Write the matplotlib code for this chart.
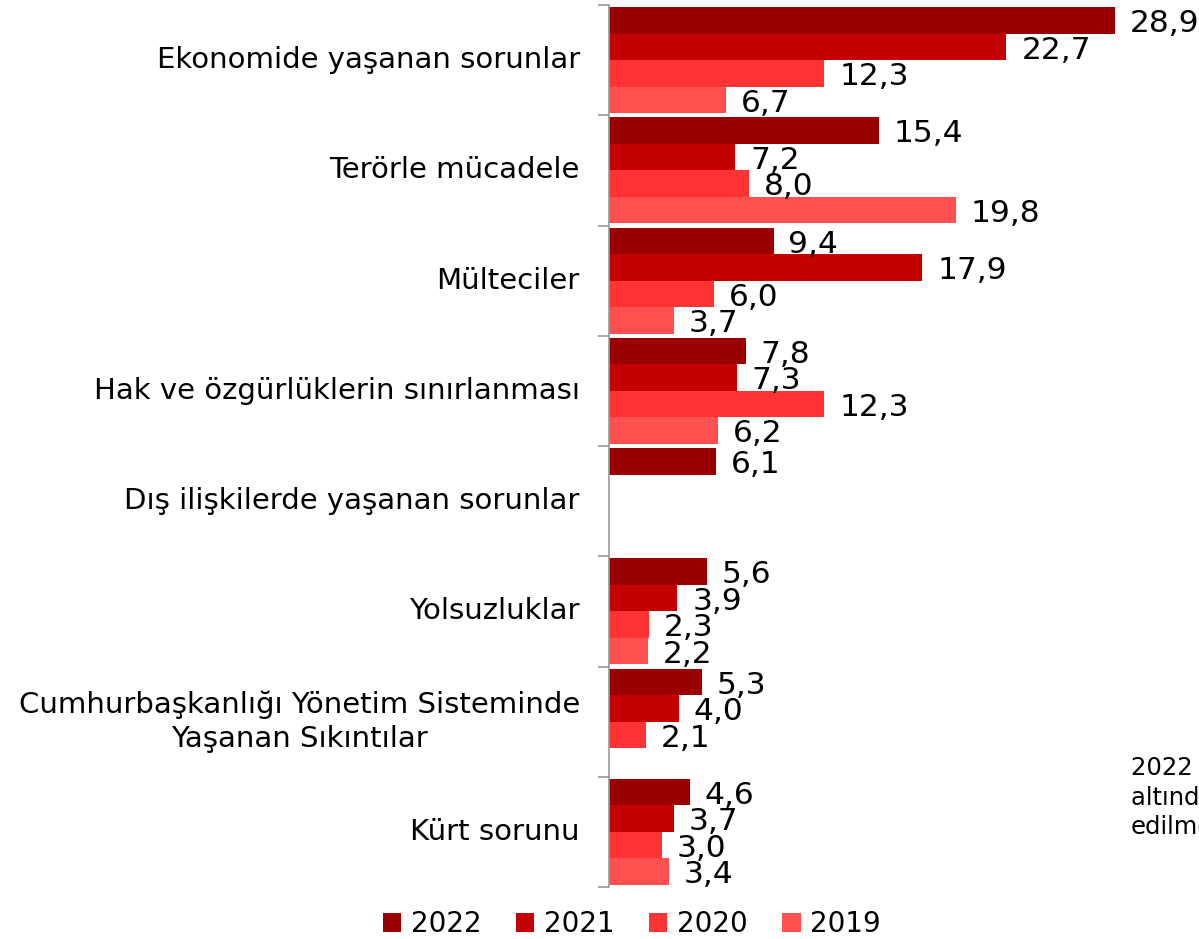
import numpy as np
import matplotlib
matplotlib.use("Agg")
import matplotlib.pyplot as plt

plt.rcParams['font.family'] = ['DejaVu Sans']

# veriler
kategoriler = [
    "Ekonomide yaşanan sorunlar",
    "Terörle mücadele",
    "Mülteciler",
    "Hak ve özgürlüklerin sınırlanması",
    "Dış ilişkilerde yaşanan sorunlar",
    "Yolsuzluklar",
    "Cumhurbaşkanlığı Yönetim Sisteminde\nYaşanan Sıkıntılar",
    "Kürt sorunu",
]
yillar = ["2022", "2021", "2020", "2019"]
v2022 = [28.9, 15.4, 9.4, 7.8, 6.1, 5.6, 5.3, 4.6]
v2021 = [22.7, 7.2, 17.9, 7.3, np.nan, 3.9, 4.0, 3.7]
v2020 = [12.3, 8.0, 6.0, 12.3, np.nan, 2.3, 2.1, 3.0]
v2019 = [6.7, 19.8, 3.7, 6.2, np.nan, 2.2, np.nan, 3.4]
seriler = [v2022, v2021, v2020, v2019]
renkler = ["#9b0000", "#c40000", "#ff3333", "#ff5050"]

W, H = 1199, 939
fig = plt.figure(figsize=(W / 100, H / 100), dpi=100)
ax = fig.add_axes([609 / W, 1 - 887 / H, 590 / W, 882 / H])

y = np.arange(len(kategoriler))
h = 0.24
offsets = [-0.36, -0.12, 0.12, 0.36]

for vals, off, c, lab in zip(seriler, offsets, renkler, yillar):
    vals = np.array(vals, dtype=float)
    ok = ~np.isnan(vals)
    ax.barh(y[ok] + off, vals[ok], height=h, color=c, label=lab)
    for yy, v in zip(y[ok] + off, vals[ok]):
        ax.text(v + 0.85, yy + 0.03, f"{v:.1f}".replace(".", ","),
                va="center", ha="left", fontsize=22.5, color="black")

ax.set_xlim(0, 33.7)
ax.set_ylim(7.5, -0.5)

# sınır çizgileri (major) ve etiketler (minor)
ax.set_yticks(np.arange(-0.5, 8, 1))
ax.set_yticklabels([])
ax.set_yticks(y, minor=True)
ax.set_yticklabels(kategoriler, minor=True, fontsize=21)
for t in ax.get_yticklabels(minor=True):
    t.set_multialignment("center")
    t.set_linespacing(1.25)
    t.set_verticalalignment("center")
ax.tick_params(axis="y", which="major", length=8, color="#999999", width=1.2)
ax.tick_params(axis="y", which="minor", length=0, pad=21)
ax.set_xticks([])

for s in ["top", "right", "bottom"]:
    ax.spines[s].set_visible(False)
ax.spines["left"].set_color("#999999")
ax.spines["left"].set_linewidth(1.2)

fig.legend(loc="center", bbox_to_anchor=(632 / W, 1 - 924 / H), ncol=4,
           frameon=False, fontsize=20, handlelength=0.65, handleheight=0.65,
           handletextpad=0.35, columnspacing=1.25, borderaxespad=0)

fig.text(1131 / W, 1 - 756 / H,
         "2022 yılında %5'in\naltındaki maddeler dahil\nedilmemiştir.",
         fontsize=17.5, va="top", ha="left", linespacing=1.3)

fig.savefig("out.png", dpi=100)
